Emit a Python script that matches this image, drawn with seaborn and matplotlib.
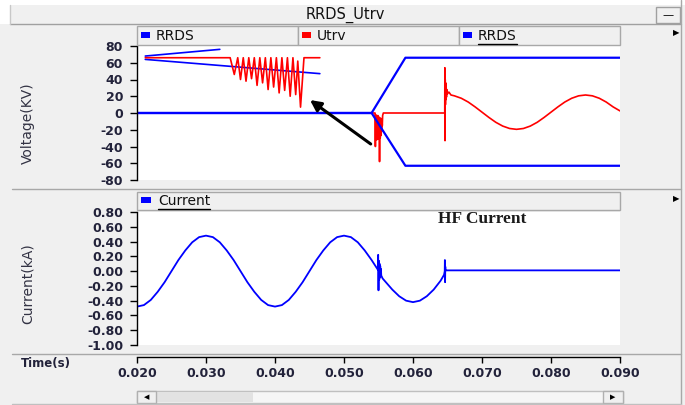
import numpy as np
import matplotlib
matplotlib.use("Agg")
import matplotlib.pyplot as plt
from matplotlib.patches import Rectangle
from matplotlib.lines import Line2D
import seaborn as sns

# ---- data ----
# RRDS envelope, early part (two short slanted lines)
rrds_hi_t = [0.0212, 0.0320]
rrds_hi_v = [68, 76]
rrds_lo_t = [0.0212, 0.0465]
rrds_lo_v = [64, 47]
# RRDS after the opening: zero line then +/- envelope
rrds_pos_t = [0.020, 0.0540, 0.0589, 0.090]
rrds_pos_v = [0, 0, 66, 66]
rrds_neg_t = [0.020, 0.0540, 0.0589, 0.090]
rrds_neg_v = [0, 0, -63, -63]

# Utrv, reignition part
utrv1_t = [0.0212, 0.0335, 0.0341, 0.0346, 0.0350, 0.0354, 0.0358, 0.0362, 0.0366,
           0.0370, 0.0374, 0.0378, 0.0382, 0.0386, 0.0390, 0.0394, 0.0398, 0.0402,
           0.0406, 0.0410, 0.0414, 0.0418, 0.0422, 0.0426, 0.0430, 0.0433, 0.0437,
           0.0442, 0.0465]
utrv1_v = [66, 66, 46, 66, 40, 66, 38, 66, 41, 66, 33, 66, 36, 66, 28, 66, 31, 66,
           24, 66, 27, 66, 20, 66, 22, 62, 7, 66, 66]
# Utrv, HF burst at ~0.055 s
utrv2_t = [0.0541, 0.0545, 0.05455, 0.0546, 0.05465, 0.0547, 0.05475, 0.0548,
           0.05485, 0.0549, 0.05495, 0.0550, 0.05505, 0.0551, 0.05515, 0.0552,
           0.05525, 0.0553, 0.05535, 0.0554, 0.05545, 0.0555, 0.05555, 0.0556,
           0.0557, 0.0646]
utrv2_v = [0, 0, -40, -2, -30, -4, -32, -6, -28, -3, -31, -8, -29, -5, -58, -10,
           -30, -6, -27, -12, -22, -8, -15, -3, 0, 0]
# Utrv, spike at ~0.0646 s and recovery voltage
utrv3_t = [0.0646, 0.06462, 0.06464, 0.06467, 0.0647, 0.06473, 0.06476, 0.0648,
           0.06485, 0.0649, 0.0650, 0.0652, 0.0655, 0.066, 0.067, 0.068, 0.069,
           0.070, 0.071, 0.072, 0.073, 0.074, 0.075, 0.076, 0.077, 0.078, 0.079,
           0.080, 0.081, 0.082, 0.083, 0.084, 0.085, 0.086, 0.087, 0.088, 0.089,
           0.090]
utrv3_v = [0, 54, -33, 40, 10, 36, 16, 32, 19, 28, 23, 25, 21.5, 20.5, 17.6, 13.1,
           7.3, 1.0, -5.3, -11.1, -15.6, -18.5, -19.5, -18.5, -15.6, -11.1, -5.3,
           1.0, 7.3, 13.1, 17.6, 20.5, 21.5, 20.5, 17.6, 13.1, 7.3, 2.5]

# Current
cur1_t = [0.020, 0.021, 0.022, 0.023, 0.024, 0.025, 0.026, 0.027, 0.028, 0.029,
          0.030, 0.031, 0.032, 0.033, 0.034, 0.035, 0.036, 0.037, 0.038, 0.039,
          0.040, 0.041, 0.042, 0.043, 0.044, 0.045, 0.046, 0.047, 0.048, 0.049,
          0.050, 0.051, 0.052, 0.053, 0.054]
cur1_v = [-0.48, -0.46, -0.39, -0.28, -0.15, 0.00, 0.15, 0.28, 0.39, 0.46,
          0.48, 0.46, 0.39, 0.28, 0.15, 0.00, -0.15, -0.28, -0.39, -0.46,
          -0.48, -0.46, -0.39, -0.28, -0.15, 0.00, 0.15, 0.28, 0.39, 0.46,
          0.48, 0.46, 0.39, 0.28, 0.15]
hf1_t = [0.0549, 0.05495, 0.0550, 0.05505, 0.0551, 0.05515, 0.0552, 0.05525,
         0.0553, 0.05535, 0.0554]
hf1_v = [0.02, 0.22, -0.26, 0.14, -0.12, 0.10, -0.09, 0.07, -0.06, 0.03, -0.06]
cur2_t = [0.0556, 0.057, 0.058, 0.059, 0.060, 0.061, 0.062, 0.063, 0.064, 0.0645]
cur2_v = [-0.10, -0.25, -0.34, -0.40, -0.42, -0.40, -0.34, -0.25, -0.13, -0.05]
hf2_t = [0.0646, 0.06462, 0.06465, 0.06468, 0.0647, 0.0648, 0.090]
hf2_v = [0.00, 0.15, -0.15, 0.06, 0.02, 0.01, 0.01]

volt_ticks = [80, 60, 40, 20, 0, -20, -40, -60, -80]
cur_ticks = [0.80, 0.60, 0.40, 0.20, 0.00, -0.20, -0.40, -0.60, -0.80, -1.00]
time_ticks = [0.020, 0.030, 0.040, 0.050, 0.060, 0.070, 0.080, 0.090]

# ---- style ----
sns.set_theme(style="white")
plt.rcParams['font.family'] = ['DejaVu Sans']
plt.rcParams['axes.unicode_minus'] = False

W, H = 685, 405
BG = '#f0f0f0'
BLUE = '#0000ff'
RED = '#ff0000'
TXT = '#22223a'


def box(x0, y0, x1, y1):
    return [x0 / W, 1 - y1 / H, (x1 - x0) / W, (y1 - y0) / H]


def rect(fig, x0, y0, x1, y1, fc, ec='none', lw=1.0, z=1):
    fig.add_artist(Rectangle((x0 / W, 1 - y1 / H), (x1 - x0) / W, (y1 - y0) / H,
                             transform=fig.transFigure, facecolor=fc,
                             edgecolor=ec, linewidth=lw, zorder=z))


def line(fig, xs, ys, color, lw=1.0):
    fig.add_artist(Line2D([x / W for x in xs], [1 - y / H for y in ys],
                          transform=fig.transFigure, color=color, lw=lw))


def underline(fig, t, color='black'):
    fig.canvas.draw()
    bb = t.get_window_extent()
    line(fig, [bb.x0, bb.x1], [H - bb.y0 + 1, H - bb.y0 + 1], color, 1.0)


fig = plt.figure(figsize=(6.85, 4.05), dpi=100, facecolor=BG)

# window chrome
rect(fig, 0, 0, 685, 5, 'white', z=0)
rect(fig, 0, 0, 10, 24, 'white', z=0)
line(fig, [10, 681], [24, 24], '#a0a0a0')
line(fig, [10, 10], [5, 24], '#c8c8c8')
line(fig, [681, 681], [0, 405], '#a8a8a8')
line(fig, [12, 681], [189, 189], '#a8a8a8')
line(fig, [12, 681], [354, 354], '#a8a8a8')
line(fig, [12, 681], [404, 404], '#c0c0c0')
rect(fig, 656, 7, 680, 23, BG, '#a0a0a0')
fig.text(668 / W, 1 - 15 / H, '\u2014', ha='center', va='center', fontsize=8,
         color='black')
fig.text(345 / W, 1 - 15 / H, 'RRDS_Utrv', ha='center', va='center',
         fontsize=10.5, color='#111111')

# legend tabs, top panel
tabs = [(137, 298, BLUE, 'RRDS', False), (298, 459, RED, 'Utrv', False),
        (459, 620, BLUE, 'RRDS', True)]
for x0, x1, c, lab, ul in tabs:
    rect(fig, x0, 26, x1, 45, BG, '#a8a8a8')
    rect(fig, x0 + 4, 32, x0 + 13, 38, c, z=2)
    t = fig.text((x0 + 19) / W, 1 - 36 / H, lab, ha='left', va='center',
                 fontsize=10, color='#111111')
    if ul:
        underline(fig, t)

# legend tab, bottom panel
rect(fig, 137, 192, 620, 210, BG, '#a8a8a8')
rect(fig, 141, 197, 151, 203, BLUE, z=2)
t = fig.text(158 / W, 1 - 201 / H, 'Current', ha='left', va='center',
             fontsize=10, color='#111111')
underline(fig, t)

for yy in [33, 199]:
    fig.text(676 / W, 1 - yy / H, '\u25B6', ha='center', va='center',
             fontsize=6, color='black')

# scroll bar
rect(fig, 137, 391, 623, 403, '#f6f6f6', '#c0c0c0')
rect(fig, 156, 392, 253, 402, '#e2e2e2')
rect(fig, 137, 391, 156, 403, BG, '#b0b0b0')
rect(fig, 603, 391, 623, 403, BG, '#b0b0b0')
fig.text(146.5 / W, 1 - 397 / H, '\u25C0', ha='center', va='center',
         fontsize=5, color='black')
fig.text(613 / W, 1 - 397 / H, '\u25B6', ha='center', va='center',
         fontsize=5, color='black')

# axis titles
fig.text(28 / W, 1 - 123 / H, 'Voltage(KV)', rotation=90, ha='center',
         va='center', fontsize=10, color='#333344')
fig.text(28 / W, 1 - 284 / H, 'Current(kA)', rotation=90, ha='center',
         va='center', fontsize=10, color='#333344')
fig.text(21 / W, 1 - 364 / H, 'Time(s)', ha='left', va='center',
         fontsize=8.5, fontweight='bold', color=TXT)


def style_panel(ax, ticks, labels, ylim):
    ax.set_facecolor('white')
    ax.set_xlim(0.020, 0.090)
    ax.set_ylim(*ylim)
    for s in ['top', 'right', 'bottom']:
        ax.spines[s].set_visible(False)
    ax.spines['left'].set_color('black')
    ax.spines['left'].set_linewidth(1.0)
    ax.set_xticks([])
    ax.set_yticks(ticks, labels, fontweight='bold')
    ax.tick_params(axis='y', left=True, direction='out', length=5, width=1,
                   color='black', pad=5, labelsize=9, labelcolor=TXT)
    ax.set_xlabel('')
    ax.set_ylabel('')


# ---- voltage panel ----
ax1 = fig.add_axes(box(137, 46, 620, 180))
kw = dict(ax=ax1, estimator=None, sort=False)
sns.lineplot(x=rrds_hi_t, y=rrds_hi_v, color=BLUE, linewidth=1.2, **kw)
sns.lineplot(x=rrds_lo_t, y=rrds_lo_v, color=BLUE, linewidth=1.2, **kw)
sns.lineplot(x=utrv1_t, y=utrv1_v, color=RED, linewidth=1.2, **kw)
sns.lineplot(x=utrv2_t, y=utrv2_v, color=RED, linewidth=1.2, **kw)
sns.lineplot(x=utrv3_t, y=utrv3_v, color=RED, linewidth=1.2, **kw)
sns.lineplot(x=rrds_pos_t, y=rrds_pos_v, color=BLUE, linewidth=1.6, **kw)
sns.lineplot(x=rrds_neg_t, y=rrds_neg_v, color=BLUE, linewidth=1.6, **kw)
style_panel(ax1, volt_ticks, [str(v) for v in volt_ticks], (-80, 80))
ax1.annotate('', xy=(0.04507, 15.5), xytext=(0.05387, -37),
             arrowprops=dict(arrowstyle='-|>', color='black', lw=2.2,
                             mutation_scale=16, shrinkA=0, shrinkB=0))

# ---- current panel ----
ax2 = fig.add_axes(box(137, 212, 620, 345))
cur_t = cur1_t + hf1_t + cur2_t + hf2_t
cur_v = cur1_v + hf1_v + cur2_v + hf2_v
sns.lineplot(x=cur_t, y=cur_v, ax=ax2, estimator=None, sort=False,
             color=BLUE, linewidth=1.3)
style_panel(ax2, cur_ticks, [f'{v:.2f}' for v in cur_ticks], (-1.0, 0.8))
ax2.text(0.0636, 0.70, 'HF Current', ha='left', va='center', fontsize=12.5,
         fontweight='bold', family='Liberation Serif', color='#1a1a1a')

# ---- time axis ----
ax3 = fig.add_axes(box(137, 356, 620, 357))
ax3.patch.set_alpha(0)
ax3.set_xlim(0.020, 0.090)
for s in ['top', 'left', 'right']:
    ax3.spines[s].set_visible(False)
ax3.spines['bottom'].set_color('black')
ax3.spines['bottom'].set_linewidth(1.0)
ax3.set_yticks([])
ax3.set_xticks(time_ticks, [f'{v:.3f}' for v in time_ticks], fontweight='bold')
ax3.tick_params(axis='x', bottom=True, direction='out', length=4, width=1,
                color='black', pad=3, labelsize=9, labelcolor=TXT)

fig.savefig('out.png', dpi=100)
